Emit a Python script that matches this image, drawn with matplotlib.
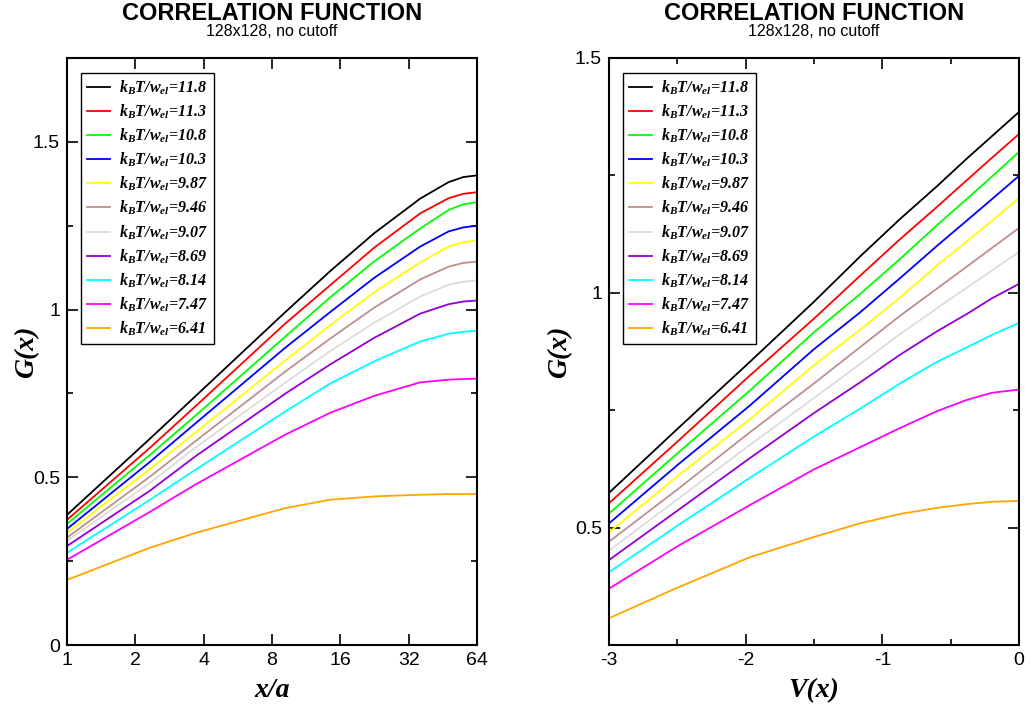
import matplotlib
matplotlib.use("Agg")
import matplotlib.pyplot as plt
from matplotlib.ticker import FixedLocator, MultipleLocator, NullLocator
from matplotlib.font_manager import FontProperties

plt.rcParams['font.family'] = ['Liberation Sans', 'DejaVu Sans']
plt.rcParams['mathtext.fontset'] = 'custom'
plt.rcParams['mathtext.rm'] = 'Liberation Serif:italic:bold'
plt.rcParams['mathtext.it'] = 'Liberation Serif:italic:bold'
plt.rcParams['mathtext.bf'] = 'Liberation Serif:italic:bold'

temps = ["11.8", "11.3", "10.8", "10.3", "9.87", "9.46", "9.07", "8.69", "8.14", "7.47", "6.41"]
colors = ["#000000", "#ff0000", "#00ff00", "#0000ff", "#ffff00", "#bc8f8f",
          "#dcdcdc", "#9400d3", "#00ffff", "#ff00ff", "#ffa500"]

# left panel: G(x) vs x/a
x_left = [1, 2.32, 3.67, 9.14, 14.4, 22.6, 36, 48, 55.7, 64]
g_left = [
    [0.388, 0.615, 0.741, 0.992, 1.114, 1.228, 1.331, 1.380, 1.395, 1.400],
    [0.373, 0.588, 0.711, 0.958, 1.072, 1.185, 1.287, 1.332, 1.345, 1.350],
    [0.361, 0.567, 0.683, 0.919, 1.036, 1.144, 1.242, 1.297, 1.314, 1.320],
    [0.346, 0.546, 0.660, 0.886, 0.992, 1.095, 1.188, 1.233, 1.245, 1.250],
    [0.334, 0.525, 0.633, 0.848, 0.953, 1.052, 1.141, 1.188, 1.201, 1.206],
    [0.320, 0.502, 0.607, 0.815, 0.913, 1.006, 1.090, 1.128, 1.139, 1.143],
    [0.311, 0.483, 0.588, 0.782, 0.876, 0.961, 1.039, 1.074, 1.083, 1.087],
    [0.295, 0.460, 0.562, 0.749, 0.836, 0.916, 0.988, 1.016, 1.024, 1.027],
    [0.275, 0.433, 0.522, 0.696, 0.779, 0.846, 0.905, 0.928, 0.934, 0.937],
    [0.254, 0.397, 0.478, 0.627, 0.692, 0.743, 0.783, 0.791, 0.793, 0.794],
    [0.194, 0.290, 0.334, 0.408, 0.433, 0.443, 0.448, 0.450, 0.450, 0.450],
]

# right panel: G(x) vs V(x)
v_right = [-3, -2.5, -1.969, -1.5, -1.164, -0.871, -0.6, -0.381, -0.2, 0]
g_right = [
    [0.574, 0.710, 0.853, 0.981, 1.077, 1.157, 1.227, 1.286, 1.333, 1.385],
    [0.552, 0.683, 0.824, 0.945, 1.036, 1.114, 1.183, 1.240, 1.287, 1.338],
    [0.530, 0.658, 0.792, 0.916, 0.997, 1.072, 1.144, 1.200, 1.247, 1.300],
    [0.509, 0.633, 0.760, 0.880, 0.958, 1.031, 1.100, 1.154, 1.199, 1.249],
    [0.490, 0.609, 0.731, 0.846, 0.921, 0.990, 1.058, 1.110, 1.153, 1.202],
    [0.470, 0.581, 0.703, 0.807, 0.884, 0.951, 1.009, 1.056, 1.095, 1.138],
    [0.451, 0.560, 0.676, 0.776, 0.848, 0.912, 0.967, 1.011, 1.047, 1.087],
    [0.431, 0.536, 0.648, 0.744, 0.809, 0.868, 0.918, 0.955, 0.988, 1.019],
    [0.405, 0.504, 0.606, 0.694, 0.753, 0.807, 0.853, 0.884, 0.910, 0.936],
    [0.370, 0.460, 0.548, 0.624, 0.671, 0.712, 0.748, 0.772, 0.787, 0.794],
    [0.307, 0.372, 0.437, 0.480, 0.509, 0.529, 0.542, 0.550, 0.555, 0.557],
]

left_xticks = [1, 2, 4, 8, 16, 32, 64]
left_yticks = [0, 0.5, 1, 1.5]
left_yticklabels = ["0", "0.5", "1", "1.5"]
right_xticks = [-3, -2, -1, 0]
right_yticks = [0.5, 1, 1.5]
right_yticklabels = ["0.5", "1", "1.5"]

title = "CORRELATION FUNCTION"
subtitle = "128x128, no cutoff"

W, H = 1035, 710
fig = plt.figure(figsize=(W / 100, H / 100), dpi=100)

def px_axes(x0, x1, y0, y1):
    return fig.add_axes([x0 / W, 1 - y1 / H, (x1 - x0) / W, (y1 - y0) / H])

axL = px_axes(67, 477, 58, 645)
axR = px_axes(609, 1019, 58, 645)

labels = [r"$k_BT/w_{el}$=%s" % t for t in temps]

for c, g, lab in zip(colors, g_left, labels):
    axL.plot(x_left, g, color=c, lw=1.3, label=lab)
for c, g, lab in zip(colors, g_right, labels):
    axR.plot(v_right, g, color=c, lw=1.3, label=lab)

axL.set_xscale('log', base=2)
axL.set_xlim(1, 64)
axL.set_ylim(0, 1.75)
axL.xaxis.set_major_locator(FixedLocator(left_xticks))
axL.set_xticklabels([str(t) for t in left_xticks])
axL.xaxis.set_minor_locator(NullLocator())
axL.set_yticks(left_yticks)
axL.set_yticklabels(left_yticklabels)
axL.yaxis.set_minor_locator(MultipleLocator(0.25))

axR.set_xlim(-3, 0)
axR.set_ylim(0.25, 1.5)
axR.set_xticks(right_xticks)
axR.set_xticklabels([str(t) for t in right_xticks])
axR.xaxis.set_minor_locator(MultipleLocator(0.5))
axR.set_yticks(right_yticks)
axR.set_yticklabels(right_yticklabels)
axR.yaxis.set_minor_locator(FixedLocator([0.75, 1.25]))

lab_font = dict(family='Liberation Serif', fontstyle='italic', fontweight='bold', fontsize=20)
leg_prop = FontProperties(family='Liberation Serif', style='italic', weight='bold', size=11.5)

for ax, xl, ylx in ((axL, "x/a", (27 - 67) / 410), (axR, "V(x)", (560 - 609) / 410)):
    ax.tick_params(which='both', direction='in', top=True, right=True, width=1.2, labelsize=14)
    ax.tick_params(which='major', length=8, pad=5)
    ax.tick_params(which='minor', length=4)
    for s in ax.spines.values():
        s.set_linewidth(1.5)
    ax.set_xlabel(xl, **lab_font)
    ax.xaxis.label.set_va('baseline')
    ax.xaxis.set_label_coords(0.5, -(697 - 645) / 587)
    ax.set_ylabel("G(x)", **lab_font)
    ax.yaxis.label.set_va('center')
    ax.yaxis.label.set_ha('center')
    ax.yaxis.set_label_coords(ylx, 0.5)
    leg = ax.legend(loc='upper left', bbox_to_anchor=(0.034, 0.975), prop=leg_prop,
                    frameon=True, fancybox=False, edgecolor='black', framealpha=1,
                    handlelength=1.45, handletextpad=0.6, labelspacing=0.36,
                    borderpad=0.35, borderaxespad=0)
    leg.get_frame().set_linewidth(1.0)

for cx in ((67 + 477) / 2, (609 + 1019) / 2):
    fig.text(cx / W, 1 - 20 / H, title, ha='center', va='baseline', fontsize=17, fontweight='bold')
    fig.text(cx / W, 1 - 36 / H, subtitle, ha='center', va='baseline', fontsize=11.5)

fig.savefig("out.png", dpi=100)
